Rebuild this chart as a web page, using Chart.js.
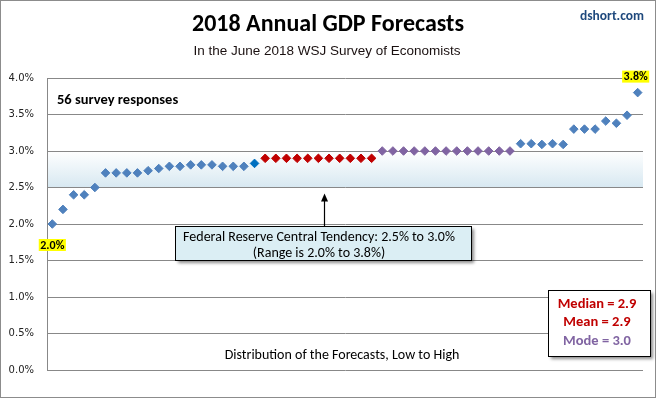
<!DOCTYPE html>
<html><head><meta charset="utf-8">
<script src="https://cdn.jsdelivr.net/npm/chart.js@4"></script>
<style>html,body{margin:0;padding:0;background:#fff;} canvas{display:block;}</style>
</head><body>
<canvas id="c" width="656" height="398"></canvas>
<script>
// ---- data ----
const titleText = '2018 Annual GDP Forecasts';
const subtitleText = 'In the June 2018 WSJ Survey of Economists';
const yTicks = [0, 0.5, 1.0, 1.5, 2.0, 2.5, 3.0, 3.5, 4.0];
const lowGroup = [2.0, 2.2, 2.4, 2.4, 2.5, 2.7, 2.7, 2.7, 2.7, 2.73, 2.76, 2.79, 2.79, 2.81, 2.81, 2.81, 2.79, 2.79, 2.79];
const pivotGroup = [2.83];
const medianGroup = [2.9, 2.9, 2.9, 2.9, 2.9, 2.9, 2.9, 2.9, 2.9, 2.9, 2.9];
const modeGroup = [3.0, 3.0, 3.0, 3.0, 3.0, 3.0, 3.0, 3.0, 3.0, 3.0, 3.0, 3.0, 3.0];
const highGroup = [3.1, 3.1, 3.09, 3.1, 3.09, 3.3, 3.3, 3.3, 3.41, 3.38, 3.49, 3.8];
const tendencyBand = [2.5, 3.0];
const stats = {median: 2.9, mean: 2.9, mode: 3.0};

const groups = [lowGroup, pivotGroup, medianGroup, modeGroup, highGroup];
const allValues = groups.flat();
const categories = allValues.map((v, i) => String(i + 1));
const colors = ['#4f81bd', '#0070c0', '#c00000', '#8064a2', '#4f81bd'];

let offset = 0;
const datasets = groups.map((g, gi) => {
  const data = new Array(allValues.length).fill(null);
  g.forEach((v, i) => { data[offset + i] = v; });
  offset += g.length;
  return {
    data, showLine: false, pointStyle: 'rectRot', pointRadius: 4.3, pointHoverRadius: 4.3,
    pointBackgroundColor: colors[gi], pointBorderColor: colors[gi], pointBorderWidth: 1
  };
});

const FONT = "Carlito, Lato, 'Open Sans', sans-serif";

const decor = {
  id: 'decor',
  beforeDraw(chart) {
    const ctx = chart.ctx, a = chart.chartArea, ys = chart.scales.y;
    ctx.save();
    ctx.fillStyle = '#fff';
    ctx.fillRect(0, 0, chart.width, chart.height);
    const yTop = ys.getPixelForValue(tendencyBand[1]);
    const yBot = ys.getPixelForValue(tendencyBand[0]);
    const g = ctx.createLinearGradient(0, yTop, 0, yBot);
    g.addColorStop(0, '#ffffff');
    g.addColorStop(1, '#d7e8f1');
    ctx.fillStyle = g;
    ctx.fillRect(a.left, yTop, a.right - a.left, yBot - yTop);
    ctx.restore();
  },
  afterDraw(chart) {
    const ctx = chart.ctx, a = chart.chartArea, ys = chart.scales.y, xs = chart.scales.x;
    ctx.save();
    // outer border
    ctx.strokeStyle = '#8c8c8c';
    ctx.lineWidth = 1;
    ctx.strokeRect(0.5, 0.5, chart.width - 1, chart.height - 1);

    // titles
    ctx.textAlign = 'center';
    ctx.textBaseline = 'middle';
    ctx.fillStyle = '#000';
    ctx.font = 'bold 24px ' + FONT;
    ctx.fillText(titleText, 328, 25);
    ctx.fillStyle = '#1a1010';
    ctx.font = "13.5px 'Liberation Sans Narrow', 'Liberation Sans', sans-serif";
    ctx.fillText(subtitleText, 327, 51);
    ctx.fillStyle = '#1f497d';
    ctx.font = 'bold 13.5px ' + FONT;
    ctx.textAlign = 'right';
    ctx.fillText('dshort.com', 644, 17);

    // survey count
    ctx.textAlign = 'left';
    ctx.fillStyle = '#000';
    ctx.font = '600 14.5px ' + FONT;
    ctx.fillText(allValues.length + ' survey responses', 57, 100);

    // min / max labels
    const first = allValues[0], last = allValues[allValues.length - 1];
    const hl = (txt, cx, cy) => {
      ctx.font = 'bold 12px ' + FONT;
      const w = ctx.measureText(txt).width + 3;
      ctx.fillStyle = '#ffff00';
      ctx.fillRect(cx - w / 2, cy - 6, w, 12);
      ctx.fillStyle = '#000';
      ctx.textAlign = 'center';
      ctx.fillText(txt, cx, cy + 0.5);
    };
    hl(first.toFixed(1) + '%', xs.getPixelForValue(0), ys.getPixelForValue(first) + 21);
    hl(last.toFixed(1) + '%', xs.getPixelForValue(allValues.length - 1) - 2, ys.getPixelForValue(last) - 16);

    // arrow
    ctx.strokeStyle = '#000';
    ctx.lineWidth = 1.2;
    ctx.beginPath();
    ctx.moveTo(324.5, 227);
    ctx.lineTo(324.5, 199);
    ctx.stroke();
    ctx.fillStyle = '#000';
    ctx.beginPath();
    ctx.moveTo(324.5, 193.5);
    ctx.lineTo(321, 201.5);
    ctx.lineTo(328, 201.5);
    ctx.closePath();
    ctx.fill();

    // boxes with shadow
    const box = (x, y, w, h, fill) => {
      ctx.save();
      ctx.shadowColor = 'rgba(0,0,0,0.45)';
      ctx.shadowOffsetX = 3;
      ctx.shadowOffsetY = 3;
      ctx.shadowBlur = 3;
      ctx.fillStyle = fill;
      ctx.fillRect(x, y, w, h);
      ctx.restore();
      ctx.strokeStyle = '#000';
      ctx.lineWidth = 1;
      ctx.strokeRect(x + 0.5, y + 0.5, w, h);
    };
    box(175, 226, 296, 34, '#dbeef4');
    ctx.fillStyle = '#000';
    ctx.textAlign = 'center';
    ctx.font = '14px ' + FONT;
    ctx.fillText('Federal Reserve Central Tendency: ' + tendencyBand[0].toFixed(1) + '% to ' + tendencyBand[1].toFixed(1) + '%', 319, 237);
    ctx.fillText('(Range is ' + first.toFixed(1) + '% to ' + last.toFixed(1) + '%)', 319, 253);

    // distribution label
    ctx.font = '14px ' + FONT;
    ctx.fillText('Distribution of the Forecasts, Low to High', 342, 355);

    // stats box
    box(548, 290, 102, 66, '#ffffff');
    ctx.font = 'bold 14.5px ' + FONT;
    ctx.fillStyle = '#c00000';
    ctx.fillText('Median = ' + stats.median.toFixed(1), 597, 304);
    ctx.fillText('Mean = ' + stats.mean.toFixed(1), 597, 322);
    ctx.fillStyle = '#8064a2';
    ctx.fillText('Mode = ' + stats.mode.toFixed(1), 597, 341);
    ctx.restore();
  }
};

new Chart(document.getElementById('c'), {
  type: 'line',
  data: { labels: categories, datasets },
  options: {
    responsive: false,
    animation: false,
    devicePixelRatio: 1,
    layout: { padding: { left: 0, right: 13, top: 78, bottom: 28 } },
    plugins: { legend: { display: false }, tooltip: { enabled: false } },
    elements: { point: { hitRadius: 0 } },
    clip: false,
    scales: {
      x: { type: 'category', display: false, offset: true },
      y: {
        min: yTicks[0], max: yTicks[yTicks.length - 1],
        afterFit(s) { s.width = 47; },
        afterBuildTicks(s) { s.ticks = yTicks.map(v => ({ value: v })); },
        ticks: {
          padding: 13, color: '#222',
          font: { family: "'DejaVu Sans', sans-serif", size: 10 },
          callback: v => Number(v).toFixed(1) + '%'
        },
        grid: { color: '#888888', lineWidth: 1, drawTicks: false },
        border: { display: true, color: '#888888', width: 1 }
      }
    }
  },
  plugins: [decor]
});
</script>
</body></html>
